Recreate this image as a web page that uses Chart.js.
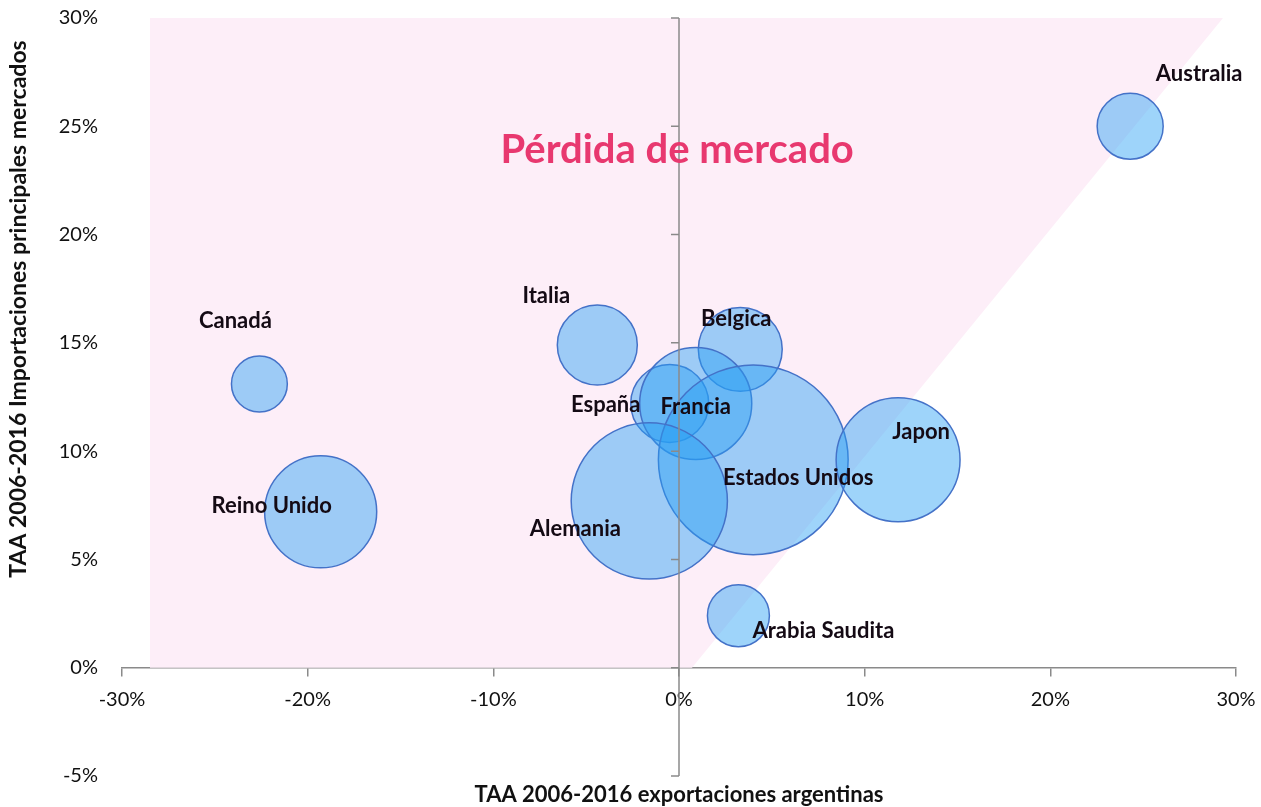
<!DOCTYPE html>
<html>
<head>
<meta charset="utf-8">
<script src="https://cdn.jsdelivr.net/npm/chart.js@4.4.1/dist/chart.umd.min.js"></script>
<style>
  html, body { margin: 0; padding: 0; background: #fff; }
  #wrap { width: 1261px; height: 807px; }
</style>
</head>
<body>
<div id="wrap"><canvas id="myChart" width="1261" height="807"></canvas></div>
<script>
// datos (TAA 2006-2016, en %)
const paises = ['Australia', 'Canadá', 'Reino Unido', 'Italia', 'Belgica', 'España', 'Francia', 'Estados Unidos', 'Alemania', 'Japon', 'Arabia Saudita'];
const expArg = [24.3, -22.6, -19.3, -4.4, 3.3, -0.5, 0.9, 4.0, -1.6, 11.8, 3.2];
const impMercados = [25.0, 13.1, 7.2, 14.9, 14.7, 12.2, 12.2, 9.6, 7.7, 9.6, 2.4];
const volumen = [10.9, 7.8, 31.4, 16.0, 17.6, 15.2, 31.4, 90.0, 61.0, 38.4, 9.6];

// zona "Pérdida de mercado" (borde inferior)
const zonaX = [-28.5, 0.7, 29.3];
const zonaY = [0, 0, 30];

const xTicks = [-30, -20, -10, 0, 10, 20, 30];
const yTicks = [-5, 0, 5, 10, 15, 20, 25, 30];

const FONT = 'Lato, "Open Sans", sans-serif';

// desplazamiento de cada etiqueta respecto de su burbuja (px)
const labelOffset = {
  'Australia': [69, -52],
  'Canadá': [-24, -63],
  'Reino Unido': [-49, -6],
  'Italia': [-51, -49],
  'Belgica': [-4, -30],
  'España': [-64, 1],
  'Francia': [0, 3],
  'Estados Unidos': [45, 18],
  'Alemania': [-74, 28],
  'Japon': [23, -28],
  'Arabia Saudita': [85, 15]
};

const extras = {
  id: 'extras',
  afterDatasetsDraw(chart) {
    const { ctx, chartArea, scales } = chart;
    const x = scales.x, y = scales.y;
    ctx.save();

    // eje vertical en x = 0
    const x0 = x.getPixelForValue(0);
    ctx.strokeStyle = '#8a8a8a';
    ctx.lineWidth = 1.5;
    ctx.beginPath();
    ctx.moveTo(x0, y.getPixelForValue(30));
    ctx.lineTo(x0, y.getPixelForValue(-5));
    yTicks.forEach(v => {
      const py = y.getPixelForValue(v);
      ctx.moveTo(x0 - 8, py);
      ctx.lineTo(x0, py);
    });
    ctx.stroke();

    // etiquetas de las burbujas
    const meta = chart.getDatasetMeta(0);
    ctx.fillStyle = '#140a14';
    ctx.font = 'bold 22px ' + FONT;
    ctx.textAlign = 'center';
    ctx.textBaseline = 'middle';
    meta.data.forEach((pt, i) => {
      const off = labelOffset[paises[i]] || [0, 0];
      ctx.fillText(paises[i], pt.x + off[0], pt.y + off[1]);
    });

    // texto de la zona
    ctx.fillStyle = '#e8386f';
    ctx.font = 'bold 40px ' + FONT;
    ctx.fillText('Pérdida de mercado', x.getPixelForValue(-0.1), y.getPixelForValue(23.9));

    // títulos de ejes
    ctx.fillStyle = '#111';
    ctx.font = 'bold 22px ' + FONT;
    ctx.fillText('TAA 2006-2016 exportaciones argentinas', (chartArea.left + chartArea.right) / 2, chartArea.bottom + 19);
    ctx.font = 'bold 23px ' + FONT;
    ctx.translate(19, chartArea.top + 291);
    ctx.rotate(-Math.PI / 2);
    ctx.fillText('TAA 2006-2016 Importaciones principales mercados', 0, 0);
    ctx.restore();
  }
};

new Chart(document.getElementById('myChart'), {
  type: 'bubble',
  data: {
    datasets: [
      {
        label: 'Mercados',
        order: 1,
        data: paises.map((p, i) => ({ x: expArg[i], y: impMercados[i], v: volumen[i] })),
        backgroundColor: 'rgba(40, 160, 245, 0.45)',
        borderColor: 'rgb(68, 114, 200)',
        borderWidth: 1.5,
        radius: ctx => 10 * Math.sqrt(ctx.raw ? ctx.raw.v : 0),
        hoverRadius: 0,
        clip: false
      },
      {
        type: 'line',
        label: 'zona',
        order: 2,
        data: zonaX.map((v, i) => ({ x: v, y: zonaY[i] })),
        borderWidth: 0,
        pointRadius: 0,
        backgroundColor: '#fdeef8',
        fill: { target: { value: 30 } },
        tension: 0
      }
    ]
  },
  options: {
    responsive: false,
    animation: false,
    layout: { autoPadding: false, padding: { top: 18, right: 25, bottom: 31, left: 0 } },
    plugins: {
      legend: { display: false },
      tooltip: { enabled: false }
    },
    scales: {
      x: {
        type: 'linear',
        position: { y: 0 },
        min: -30,
        max: 30,
        afterBuildTicks: s => { s.ticks = xTicks.map(v => ({ value: v })); },
        afterFit: s => { s.paddingLeft = 0; s.paddingRight = 0; },
        grid: { drawOnChartArea: false, drawTicks: true, tickLength: 8, color: '#8a8a8a', lineWidth: 1.5 },
        border: { display: true, color: '#8a8a8a', width: 1.5 },
        ticks: {
          padding: 12,
          color: '#111',
          font: { family: FONT, size: 20 },
          callback: v => v + '%'
        }
      },
      y: {
        type: 'linear',
        position: 'left',
        min: -5,
        max: 30,
        afterBuildTicks: s => { s.ticks = yTicks.map(v => ({ value: v })); },
        afterFit: s => { s.width = 122; s.paddingTop = 0; s.paddingBottom = 0; },
        grid: { display: false, drawTicks: false },
        border: { display: false },
        ticks: {
          padding: 24,
          color: '#111',
          font: { family: FONT, size: 20 },
          callback: v => v + '%'
        }
      }
    }
  },
  plugins: [extras]
});
</script>
</body>
</html>
